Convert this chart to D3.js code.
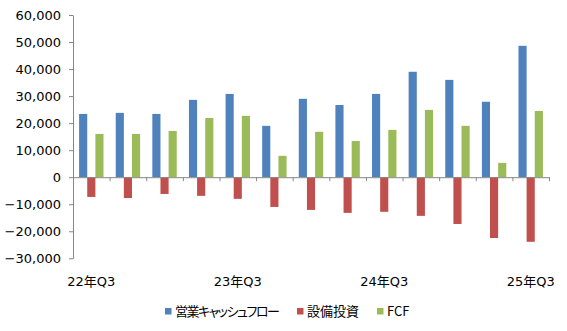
<!DOCTYPE html>
<html><head><meta charset="utf-8">
<script src="https://cdn.jsdelivr.net/npm/d3@7"></script>
<style>
body{margin:0;background:#fff;}
svg text{font-family:"DejaVu Sans","Noto Sans CJK JP",sans-serif;font-size:13px;fill:#000;}
</style></head><body>
<svg id="c" width="567" height="331"></svg>
<script>
const categories = ["22年Q3","22年Q4","23年Q1","23年Q2","23年Q3","23年Q4","24年Q1","24年Q2","24年Q3","24年Q4","25年Q1","25年Q2","25年Q3"];
const seriesNames = ["営業キャッシュフロー","設備投資","FCF"];
const operatingCF = [23400,23800,23400,28600,30800,19000,29000,26700,30800,39000,36000,27900,48600];
const capex = [-7300,-7700,-6200,-6900,-8000,-11000,-12100,-13200,-12800,-14300,-17300,-22500,-23900];
const fcf = [16000,16000,17100,21900,22700,7900,16800,13400,17500,24900,19000,5300,24500];
const yTicks = [-30000,-20000,-10000,0,10000,20000,30000,40000,50000,60000];
const shownLabels = ["22年Q3","23年Q3","24年Q3","25年Q3"];
const colors = ["#4F81BD","#C0504D","#9BBB59"];

const svg = d3.select("#c");
const L = 73, R = 549, T = 15, B = 258.3;
const x = d3.scaleBand().domain(categories).range([L, R]).paddingInner(0).paddingOuter(0);
const bw = x.bandwidth();
const x1 = d3.scaleBand().domain(seriesNames).range([(bw - bw*2/3)/2, (bw + bw*2/3)/2]).padding(0);
const y = d3.scaleLinear().domain([-30000, 60000]).range([B, T]);
const data = [operatingCF, capex, fcf];

seriesNames.forEach((s, si) => {
  svg.append("g").selectAll("rect").data(data[si]).join("rect")
    .attr("x", (d, i) => x(categories[i]) + x1(s))
    .attr("width", x1.bandwidth())
    .attr("y", d => y(Math.max(0, d)))
    .attr("height", d => Math.abs(y(d) - y(0)))
    .attr("fill", colors[si]);
});

const ya = svg.append("g").attr("transform", `translate(${L},0)`)
  .call(d3.axisLeft(y).tickValues(yTicks).tickFormat(d3.format(",")).tickSize(4).tickPadding(8).tickSizeOuter(0));
ya.selectAll("path,line").attr("stroke", "#868686");
ya.selectAll("text").attr("fill","#000");
ya.attr("font-family", null).attr("font-size", null);

const xi = d3.scaleLinear().domain([0, categories.length]).range([L, R]);
const za = svg.append("g").attr("transform", `translate(0,${y(0)})`)
  .call(d3.axisBottom(xi).tickValues(d3.range(categories.length + 1)).tickSize(4).tickSizeOuter(0).tickFormat(""));
za.selectAll("path,line").attr("stroke", "#868686");

const xa = svg.append("g").attr("transform", `translate(0,${B})`)
  .call(d3.axisBottom(x).tickSize(0).tickPadding(18).tickFormat(d => shownLabels.includes(d) ? d : ""));
xa.select(".domain").remove();
xa.attr("font-family", null).attr("font-size", null);
xa.selectAll("text").attr("fill","#000");

// legend (proportional kana like the original)
const lg = svg.append("g");
let lx = 165;
seriesNames.forEach((s, si) => {
  lg.append("rect").attr("x", lx).attr("y", 308).attr("width", 6.5).attr("height", 6.5).attr("fill", colors[si]);
  const t = lg.append("text").attr("x", lx + 10).attr("y", 311.5).attr("dy", "0.35em")
    .attr("style", "font-family:'Noto Sans CJK JP','DejaVu Sans',sans-serif;font-feature-settings:'palt' 1;font-variant-east-asian:proportional-width;")
    .text(s);
  if (si === 0) t.attr("letter-spacing", "-1.5px");
  const w = t.node().getBBox().width;
  lx = lx + 10 + w + 18;
});
</script>
</body></html>
